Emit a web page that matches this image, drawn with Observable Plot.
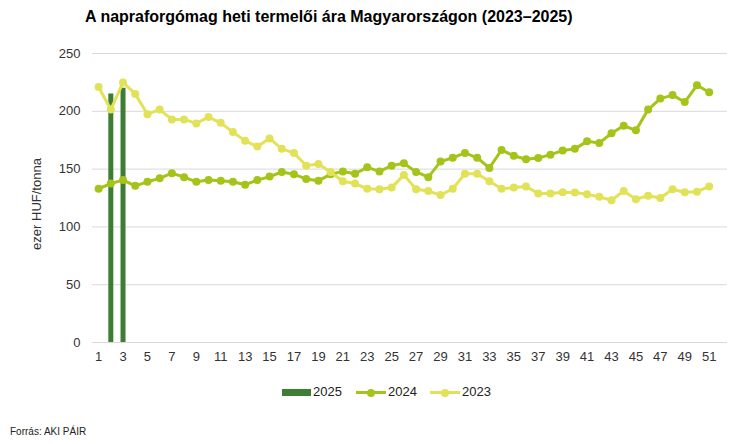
<!DOCTYPE html>
<html><head><meta charset="utf-8">
<script src="https://cdn.jsdelivr.net/npm/d3@7"></script>
<script src="https://cdn.jsdelivr.net/npm/@observablehq/plot@0.6"></script>
<style>
body{margin:0;background:#fff;font-family:"Liberation Sans",Arial,sans-serif;}
#wrap{position:relative;width:753px;height:444px;overflow:hidden;background:#fff;}
#chart{position:absolute;left:0;top:0;}
#title{position:absolute;left:85px;top:7px;font-size:16px;line-height:19px;font-weight:bold;color:#000;white-space:nowrap;}
#ylabel{position:absolute;left:37px;top:204px;transform:translate(-50%,-50%) rotate(-90deg);font-size:13px;line-height:16px;color:#333;white-space:nowrap;}
.lg{position:absolute;top:384px;font-size:13px;line-height:16px;color:#222;white-space:nowrap;}
.sw{position:absolute;}
#source{position:absolute;left:10px;top:426px;font-size:10px;line-height:12px;color:#222;white-space:nowrap;}
</style></head><body>
<div id="wrap">
  <div id="chart"></div>
  <div id="title">A napraforgómag heti termelői ára Magyarországon (2023–2025)</div>
  <div id="ylabel">ezer HUF/tonna</div>
  <div id="legend"></div>
  <div id="source">Forrás: AKI PÁIR</div>
</div>
<script>
const seriesNames = ["2025", "2024", "2023"];
const seriesColors = ["#3d7d34", "#a5c419", "#e2e258"];
const weeks = [1,2,3,4,5,6,7,8,9,10,11,12,13,14,15,16,17,18,19,20,21,22,23,24,25,26,27,28,29,30,31,32,33,34,35,36,37,38,39,40,41,42,43,44,45,46,47,48,49,50,51];
const weeks2025 = [2, 3];
const values2025 = [215, 220];
const values2024 = [133,137.5,140.5,135.5,139,142,146.5,143,139,140.5,140,139,136.5,140.5,143.5,147.5,145.5,141.5,140,145.5,148,146,151.5,148,153,155,147.5,143,156.5,159.8,164,159.8,151,166.5,161.5,158.5,159.5,162.5,166,167.5,174,172.5,181,187.5,183.5,201.5,211,214,208,222.5,216.5];
const values2023 = [221,201.5,225,215,197.5,201.5,193,193,189.5,195,190,182,174.5,169.5,176.5,167.5,164,153,154.5,147.5,139.5,137.5,133,132.5,134,145,132.5,131,127.5,133,146,146,139.5,133,134,135,129,128.8,130,129.8,128.3,126,123,131,124,127,125,132.5,130,130.5,135];
const xTicks = [1,3,5,7,9,11,13,15,17,19,21,23,25,27,29,31,33,35,37,39,41,43,45,47,49,51];
const yTicks = [0,50,100,150,200,250];

const d2025 = weeks2025.map((w,i)=>({week:w, value:values2025[i]}));
const d2024 = weeks.map((w,i)=>({week:w, value:values2024[i]}));
const d2023 = weeks.map((w,i)=>({week:w, value:values2023[i]}));

const chart = Plot.plot({
  width: 753, height: 380,
  marginLeft: 92, marginRight: 26, marginTop: 53, marginBottom: 38,
  style: {fontFamily: "Liberation Sans, Arial, sans-serif", fontSize: "13px", color: "#333", background: "transparent"},
  x: {domain: [0.5, 52.5], ticks: xTicks, tickFormat: d => String(d), tickSize: 0, tickPadding: 9, label: null},
  y: {domain: [0, 250], ticks: yTicks, tickSize: 0, tickPadding: 12, label: null},
  marks: [
    Plot.ruleY(yTicks, {stroke: "#d9d9d9", strokeWidth: 1}),
    Plot.ruleX(d2025, {x: "week", y1: 0, y2: "value", stroke: seriesColors[0], strokeWidth: 5}),
    Plot.line(d2024, {x: "week", y: "value", stroke: seriesColors[1], strokeWidth: 3}),
    Plot.dot(d2024, {x: "week", y: "value", fill: seriesColors[1], r: 4}),
    Plot.line(d2023, {x: "week", y: "value", stroke: seriesColors[2], strokeWidth: 3}),
    Plot.dot(d2023, {x: "week", y: "value", fill: seriesColors[2], r: 4})
  ]
});
document.getElementById("chart").appendChild(chart);

// legend
const lg = document.getElementById("legend");
const items = [
  {name: seriesNames[0], color: seriesColors[0], type: "bar", sx: 282, tx: 313},
  {name: seriesNames[1], color: seriesColors[1], type: "line", sx: 356, tx: 388},
  {name: seriesNames[2], color: seriesColors[2], type: "line", sx: 430, tx: 462}
];
items.forEach(it => {
  const s = document.createElement("div");
  s.className = "sw";
  if (it.type === "bar") {
    s.style.cssText = `left:${it.sx}px;top:389px;width:29px;height:7px;background:${it.color};`;
    lg.appendChild(s);
  } else {
    s.style.cssText = `left:${it.sx}px;top:391px;width:30px;height:3px;background:${it.color};`;
    lg.appendChild(s);
    const d = document.createElement("div");
    d.className = "sw";
    d.style.cssText = `left:${it.sx+11}px;top:388.5px;width:8px;height:8px;border-radius:50%;background:${it.color};`;
    lg.appendChild(d);
  }
  const t = document.createElement("div");
  t.className = "lg";
  t.style.left = it.tx + "px";
  t.textContent = it.name;
  lg.appendChild(t);
});
</script>
</body></html>
